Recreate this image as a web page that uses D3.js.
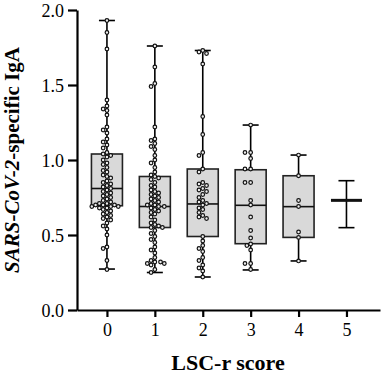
<!DOCTYPE html>
<html>
<head>
<meta charset="utf-8">
<script src="https://cdn.jsdelivr.net/npm/d3@7"></script>
<style>
  body { margin: 0; background: #fff; }
  text { font-family: "Liberation Serif", "Times New Roman", serif; }
</style>
</head>
<body>
<script>
// LSC-r score categories
var categories = [0, 1, 2, 3, 4, 5];

// individual IgA values per score
var g0 = [1.93, 1.85, 1.74, 1.40, 1.36, 1.34, 1.33, 1.30, 1.22, 1.20, 1.18, 1.14, 1.12, 1.10, 1.08, 1.05,
          1.04, 1.03, 1.02, 1.00, 0.98, 0.97, 0.95, 0.93, 0.92, 0.90, 0.89, 0.88, 0.86, 0.85, 0.84, 0.83,
          0.82, 0.81, 0.80, 0.79, 0.78, 0.77, 0.76, 0.75, 0.74, 0.73, 0.72, 0.71, 0.71, 0.70, 0.70, 0.70,
          0.69, 0.69, 0.69, 0.68, 0.68, 0.67, 0.66, 0.65, 0.64, 0.63, 0.62, 0.61, 0.60, 0.58, 0.56, 0.54,
          0.50, 0.42, 0.41, 0.33, 0.27];
var g1 = [1.76, 1.62, 1.51, 1.49, 1.22, 1.14, 1.13, 1.11, 1.09, 1.07, 1.03, 1.00, 0.98, 0.95, 0.92, 0.90,
          0.89, 0.88, 0.87, 0.85, 0.83, 0.82, 0.80, 0.79, 0.78, 0.77, 0.76, 0.75, 0.74, 0.73, 0.72, 0.71,
          0.70, 0.70, 0.69, 0.69, 0.68, 0.67, 0.66, 0.65, 0.64, 0.62, 0.60, 0.58, 0.57, 0.56, 0.55, 0.55,
          0.53, 0.51, 0.49, 0.47, 0.45, 0.42, 0.40, 0.38, 0.35, 0.33, 0.32, 0.32, 0.31, 0.31, 0.30, 0.27, 0.25];
var g2 = [1.73, 1.72, 1.71, 1.64, 1.29, 1.17, 1.05, 1.03, 0.94, 0.92, 0.85, 0.84, 0.83, 0.81, 0.80, 0.79,
          0.77, 0.75, 0.73, 0.72, 0.71, 0.70, 0.68, 0.67, 0.65, 0.63, 0.62, 0.61, 0.49, 0.46, 0.43, 0.41,
          0.39, 0.35, 0.33, 0.30, 0.28, 0.26, 0.22];
var g3 = [1.233, 1.05, 1.05, 1.01, 0.94, 0.94, 0.85, 0.85, 0.73, 0.70, 0.62, 0.53, 0.48, 0.44, 0.43, 0.40,
          0.31, 0.31, 0.27];
var g4 = [1.033, 0.895, 0.73, 0.69, 0.52, 0.484, 0.327];
var g5 = [];
var groups = [g0, g1, g2, g3, g4, g5];

// box plot summaries
var whiskerLow  = [0.273, 0.25, 0.22, 0.267, 0.327, 0.549];
var q1s         = [0.695, 0.55, 0.49, 0.442, 0.484, 0.731];
var medians     = [0.81, 0.69, 0.707, 0.698, 0.689, 0.731];
var q3s         = [1.04, 0.89, 0.94, 0.935, 0.895, 0.731];
var whiskerHigh = [1.93, 1.76, 1.73, 1.233, 1.033, 0.862];

var yTicks = [0, 0.5, 1.0, 1.5, 2.0];

var width = 383, height = 375;
var svg = d3.select("body").append("svg")
    .attr("width", width)
    .attr("height", height);

var xScale = d3.scaleLinear()
    .domain([-0.625, 5.7])
    .range([77, 380]);

var yScale = d3.scaleLinear()
    .domain([0, 2])
    .range([310, 10]);

var boxWidth = 31;
var r = 1.8;

// boxes
var boxes = svg.append("g");
categories.forEach(function(c, i){
    var cx = xScale(c);
    var g = boxes.append("g");
    g.append("line")
        .attr("x1", cx).attr("x2", cx)
        .attr("y1", yScale(whiskerLow[i])).attr("y2", yScale(whiskerHigh[i]))
        .attr("stroke", "#000").attr("stroke-width", 1.6);
    [whiskerLow[i], whiskerHigh[i]].forEach(function(v){
        g.append("line")
            .attr("x1", cx - 8).attr("x2", cx + 8)
            .attr("y1", yScale(v)).attr("y2", yScale(v))
            .attr("stroke", "#000").attr("stroke-width", 1.6);
    });
    if (q3s[i] > q1s[i]) {
        g.append("rect")
            .attr("x", cx - boxWidth/2)
            .attr("y", yScale(q3s[i]))
            .attr("width", boxWidth)
            .attr("height", yScale(q1s[i]) - yScale(q3s[i]))
            .attr("fill", "#d9d9d9")
            .attr("stroke", "#222")
            .attr("stroke-width", 1.6);
    }
    g.append("line")
        .attr("x1", cx - boxWidth/2).attr("x2", cx + boxWidth/2)
        .attr("y1", yScale(medians[i])).attr("y2", yScale(medians[i]))
        .attr("stroke", "#111")
        .attr("stroke-width", q3s[i] > q1s[i] ? 1.6 : 3);
});

// simple beeswarm placement
function swarm(values, cx){
    var placed = [];
    var sorted = values.slice().sort(function(a, b){ return b - a; });
    var step = r * 1.05;
    sorted.forEach(function(v){
        var y = yScale(v);
        for (var k = 0; k < 40; k++) {
            var off = (k % 2 === 0 ? 1 : -1) * Math.ceil(k / 2) * step;
            var x = cx + off;
            var ok = placed.every(function(p){
                var dx = p.x - x, dy = p.y - y;
                return dx*dx + dy*dy >= (2*r + 0.4) * (2*r + 0.4);
            });
            if (ok) { placed.push({x: x, y: y}); break; }
        }
    });
    return placed;
}

var pts = svg.append("g");
categories.forEach(function(c, i){
    pts.selectAll(null)
        .data(swarm(groups[i], xScale(c)))
        .enter()
        .append("circle")
        .attr("cx", function(d){ return d.x; })
        .attr("cy", function(d){ return d.y; })
        .attr("r", r)
        .attr("fill", "#eeeeee")
        .attr("stroke", "#111")
        .attr("stroke-width", 1.2);
});

// axes
var yAxis = svg.append("g")
    .attr("transform", "translate(77,0)")
    .call(d3.axisLeft(yScale).tickValues(yTicks).tickFormat(d3.format(".1f")).tickSize(9).tickSizeOuter(0));
var xAxis = svg.append("g")
    .attr("transform", "translate(0,310)")
    .call(d3.axisBottom(xScale).tickValues(categories).tickFormat(d3.format("d")).tickSize(7).tickSizeOuter(0));

[yAxis, xAxis].forEach(function(a){
    a.select(".domain").attr("stroke", "#000").attr("stroke-width", 2.2);
    a.selectAll(".tick line").attr("stroke", "#000").attr("stroke-width", 2.2);
    a.selectAll(".tick text")
        .attr("fill", "#000")
        .style("font-family", "'Liberation Serif', serif")
        .style("font-size", "18px");
});
yAxis.selectAll(".tick text").attr("x", -13).attr("dy", "0.34em");
xAxis.selectAll(".tick text").attr("y", 13);

// axis titles
svg.append("text")
    .text("LSC-r score")
    .attr("x", 228)
    .attr("y", 370)
    .attr("text-anchor", "middle")
    .style("font-weight", "bold")
    .style("font-size", "22px");

var yTitle = svg.append("text")
    .attr("text-anchor", "middle")
    .attr("transform", "translate(19,160) rotate(-90)")
    .style("font-weight", "bold")
    .style("font-size", "21px");
yTitle.append("tspan").text("SARS-CoV-2").style("font-style", "italic");
yTitle.append("tspan").text("-specific IgA");
</script>
</body>
</html>
